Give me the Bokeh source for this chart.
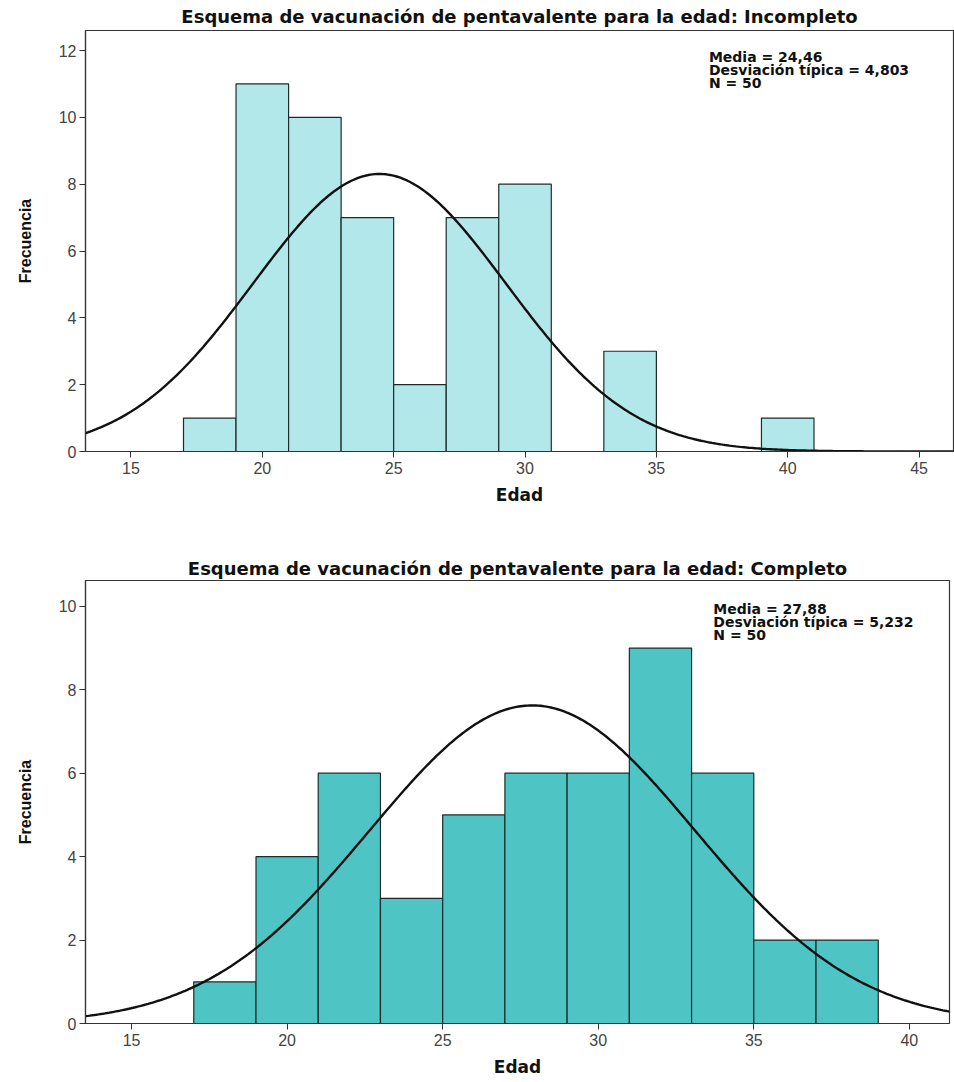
import numpy as np
from bokeh.plotting import figure
from bokeh.layouts import column
from bokeh.models import Label, FixedTicker, Range1d
from bokeh.embed import file_html
from bokeh.resources import INLINE

# ---- data ----
bin_start_inc = [17, 19, 21, 23, 25, 27, 29, 31, 33, 35, 37, 39]
counts_inc = [1, 11, 10, 7, 2, 7, 8, 0, 3, 0, 0, 1]
media_inc, sd_inc, n_inc = 24.46, 4.803, 50

bin_start_comp = [17, 19, 21, 23, 25, 27, 29, 31, 33, 35, 37]
counts_comp = [1, 4, 6, 3, 5, 6, 6, 9, 6, 2, 2]
media_comp, sd_comp, n_comp = 27.88, 5.232, 50

bin_width = 2
title_inc = "Esquema de vacunación de pentavalente para la edad: Incompleto"
title_comp = "Esquema de vacunación de pentavalente para la edad: Completo"
xticks_inc = [15, 20, 25, 30, 35, 40, 45]
xticks_comp = [15, 20, 25, 30, 35, 40]
yticks_inc = [0, 2, 4, 6, 8, 10, 12]
yticks_comp = [0, 2, 4, 6, 8, 10]

FONT = "Liberation Sans"
BOLD = "DejaVu Sans"


def fmt(v, d):
    return f"{v:.{d}f}".replace(".", ",")


def make(title, starts, counts, media, sd, n, xr, yr, xticks, yticks, fill,
         frame_w, frame_h, bt, bb, title_offset, title_standoff,
         stat_x, stat_y, stat_dy):
    p = figure(output_backend="svg", toolbar_location=None,
               frame_width=frame_w, frame_height=frame_h,
               x_range=Range1d(*xr), y_range=Range1d(*yr),
               min_border_left=85, min_border_right=954 - 85 - frame_w,
               min_border_top=bt, min_border_bottom=bb,
               background_fill_color="white", border_fill_color="white")
    p.title.text = title
    p.title.align = "center"
    p.title.offset = title_offset
    p.title.text_font = BOLD
    p.title.text_font_size = "18px"
    p.title.text_font_style = "bold"
    p.title.text_color = "#111111"
    p.title.standoff = title_standoff

    p.grid.visible = False
    p.outline_line_color = "#333333"
    p.outline_line_width = 1.2

    left = [s for s, c in zip(starts, counts) if c > 0]
    right = [s + bin_width for s, c in zip(starts, counts) if c > 0]
    top = [c for c in counts if c > 0]
    p.quad(left=left, right=right, top=top, bottom=0, fill_color=fill,
           line_color="#1e2b2b", line_width=1.2)

    xs = np.linspace(xr[0], xr[1], 400)
    ys = n * bin_width * np.exp(-0.5 * ((xs - media) / sd) ** 2) / (sd * np.sqrt(2 * np.pi))
    p.line(xs, ys, line_color="#111111", line_width=2.4)

    for ax in (p.xaxis[0], p.yaxis[0]):
        ax.axis_line_color = "#333333"
        ax.axis_line_width = 1.2
        ax.major_tick_line_color = "#333333"
        ax.major_tick_in = 0
        ax.major_tick_out = 6
        ax.minor_tick_line_color = None
        ax.major_label_text_font = FONT
        ax.major_label_text_font_size = "16px"
        ax.major_label_text_color = "#444444"
        ax.axis_label_text_font_style = "bold"
        ax.axis_label_text_color = "#111111"

    p.xaxis.ticker = FixedTicker(ticks=xticks)
    p.yaxis.ticker = FixedTicker(ticks=yticks)
    p.xaxis.axis_label = "Edad"
    p.xaxis.axis_label_text_font = BOLD
    p.xaxis.axis_label_text_font_size = "17px"
    p.xaxis.axis_label_standoff = 8
    p.xaxis.major_label_standoff = 4
    p.yaxis.axis_label = "Frecuencia"
    p.yaxis.axis_label_text_font = FONT
    p.yaxis.axis_label_text_font_size = "16px"
    p.yaxis.axis_label_standoff = 22
    p.yaxis.major_label_standoff = 3

    lines = [f"Media = {fmt(media, 2)}",
             f"Desviación típica = {fmt(sd, 3)}",
             f"N = {n}"]
    for i, t in enumerate(lines):
        p.add_layout(Label(x=stat_x, y=stat_y - i * stat_dy, text=t,
                           text_font=BOLD, text_font_style="bold",
                           text_font_size="14px", text_color="#111111",
                           text_baseline="middle", text_align="left"))
    return p


p1 = make(title_inc, bin_start_inc, counts_inc, media_inc, sd_inc, n_inc,
          (13.27, 46.31), (0, 12.6), xticks_inc, yticks_inc, "#b3e8ea",
          868, 421, 30, 94, -32, 7, 37.0, 11.80, 0.39)
p2 = make(title_comp, bin_start_comp, counts_comp, media_comp, sd_comp, n_comp,
          (13.52, 41.29), (0, 10.62), xticks_comp, yticks_comp, "#4fc4c5",
          864, 443, 35, 59, -41, 3, 33.70, 9.93, 0.31)

layout = column(p1, p2, spacing=0)
open("out.html", "w").write(file_html(layout, INLINE))
